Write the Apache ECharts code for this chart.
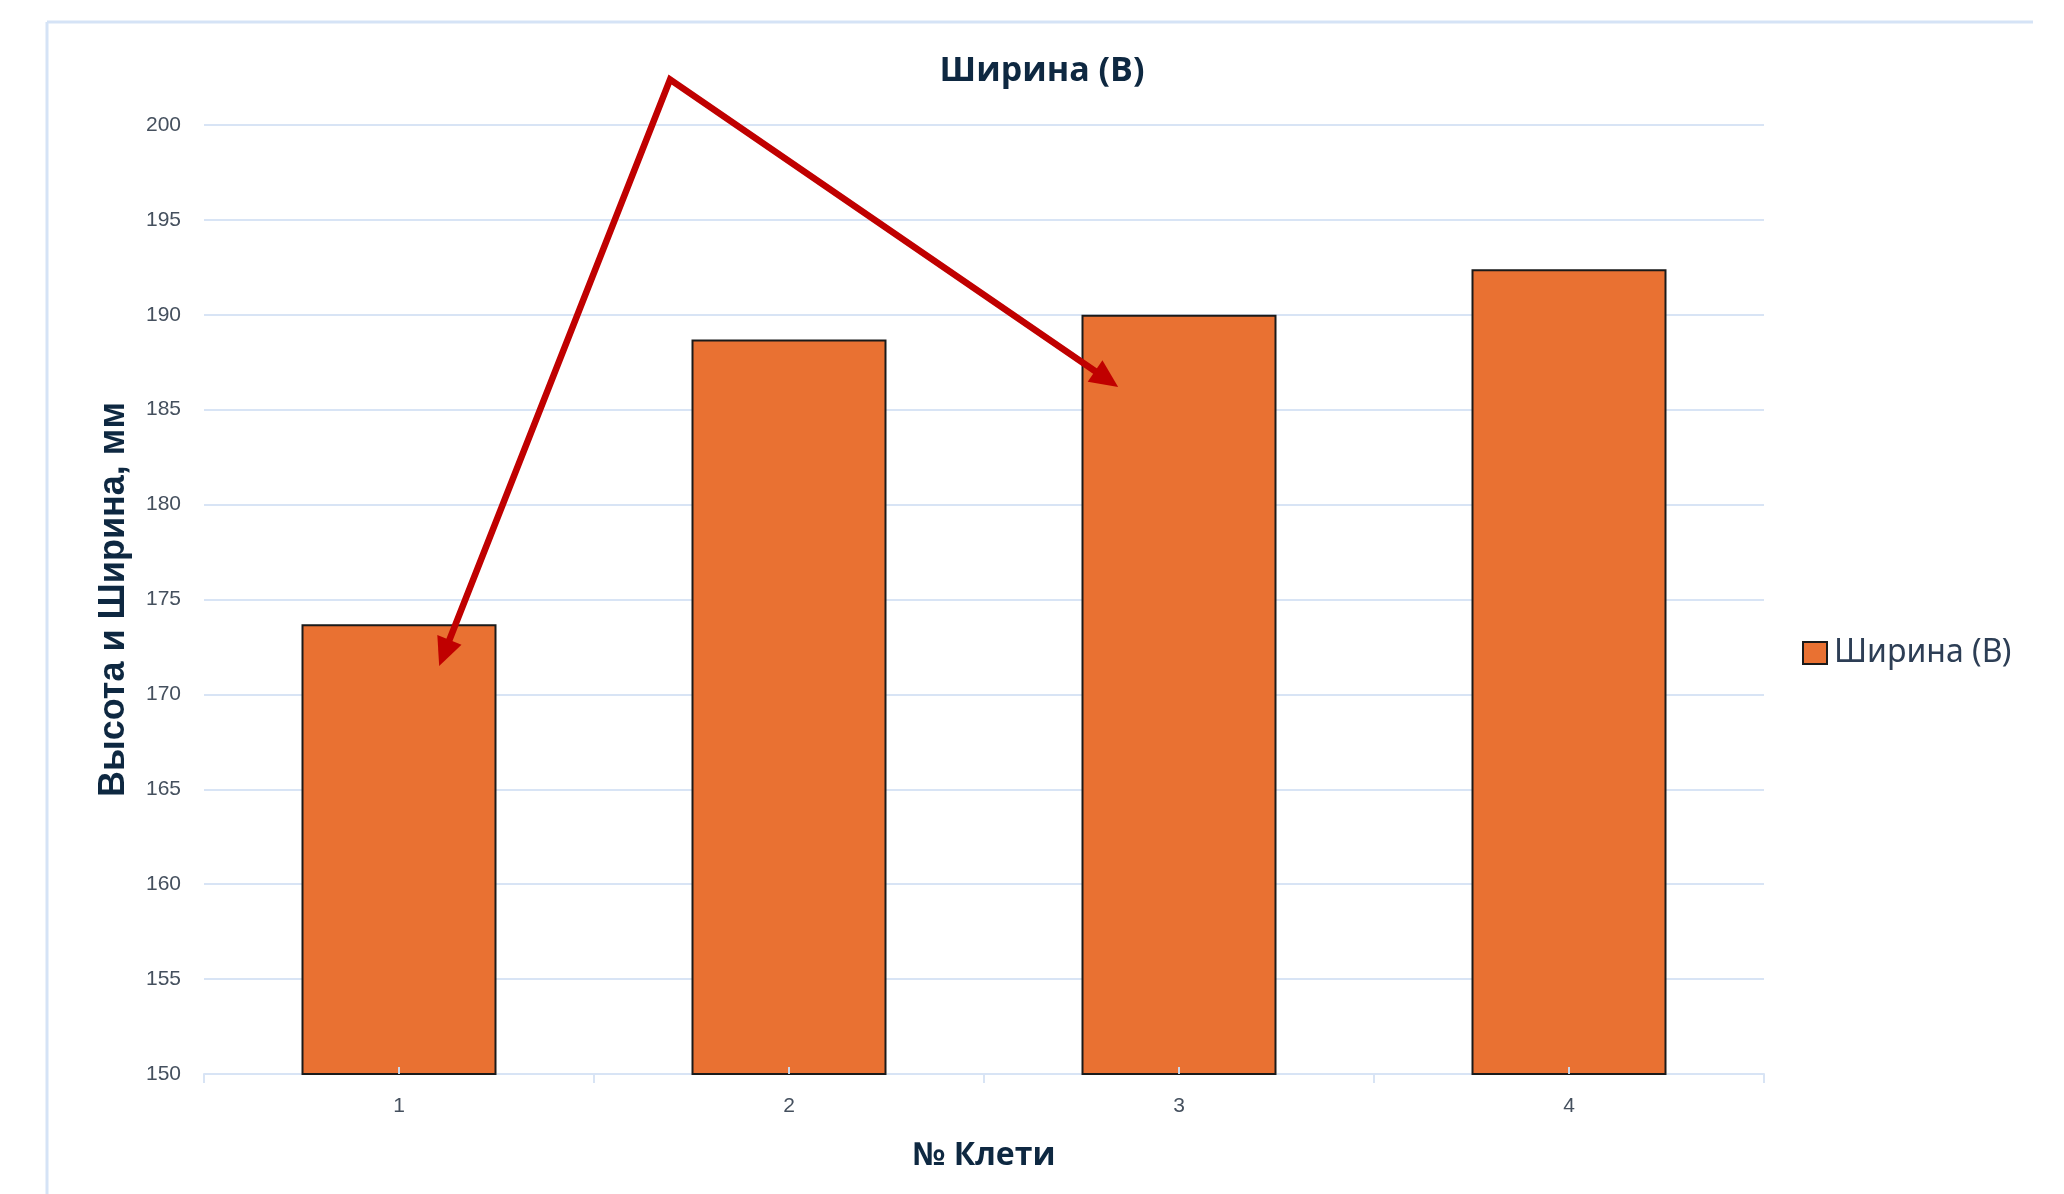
<!DOCTYPE html>
<html>
<head>
<meta charset="utf-8">
<style>
  html, body { margin: 0; padding: 0; background: #ffffff; }
  #main { width: 2064px; height: 1194px; }
</style>
<script src="https://cdn.jsdelivr.net/npm/echarts@6/dist/echarts.min.js"></script>
</head>
<body>
<div id="main"></div>
<script>
// Stand numbers and measured width per stand, mm
const categories = ['1', '2', '3', '4'];
const widthValues = [173.7, 188.7, 190.0, 192.4];
const seriesName = 'Ширина (В)';

// Value axis range and step, mm
const yMin = 150;
const yMax = 200;
const yStep = 5;

// Trend arrow: [position in category bands from the left edge, value in mm]
const arrowPath = [
  [0.603, 171.5],
  [1.195, 202.4],
  [2.344, 186.2]
];

const textDark = '#0e2841';
const tickText = '#45505e';
const gridBlue = '#d8e4f5';
const arrowRed = '#c00000';

const chart = echarts.init(document.getElementById('main'));

chart.setOption({
  backgroundColor: '#ffffff',
  animation: false,
  title: {
    text: seriesName,
    left: 1037,
    top: 49,
    textAlign: 'center',
    textStyle: {
      fontFamily: 'Open Sans',
      fontWeight: 'bold',
      fontSize: 34,
      color: textDark
    }
  },
  legend: {
    orient: 'vertical',
    left: 1797,
    top: 632,
    itemWidth: 24,
    itemHeight: 22,
    itemGap: 8,
    icon: 'rect',
    data: [seriesName],
    itemStyle: { borderColor: '#1a1a1a', borderWidth: 2 },
    textStyle: {
      fontFamily: 'Noto Sans',
      fontSize: 32,
      color: '#2d3e55',
      padding: [0, 0, 0, 2]
    }
  },
  grid: {
    left: 204,
    right: 300,
    top: 125,
    bottom: 120,
    containLabel: false
  },
  xAxis: [
    {
      type: 'category',
      data: categories,
      name: '№ Клети',
      nameLocation: 'middle',
      nameGap: 66,
      nameTextStyle: {
        fontFamily: 'Open Sans',
        fontWeight: 'bold',
        fontSize: 32,
        color: textDark
      },
      axisLine: { show: true, lineStyle: { color: gridBlue, width: 2 } },
      axisTick: {
        show: true,
        alignWithLabel: false,
        length: 9,
        lineStyle: { color: gridBlue, width: 2 }
      },
      axisLabel: {
        margin: 22,
        fontFamily: 'Liberation Sans',
        fontSize: 21,
        color: tickText
      },
      splitLine: { show: false }
    },
    {
      // short marks at each stand centre, drawn over the bars
      type: 'category',
      data: categories,
      position: 'bottom',
      z: 5,
      axisLine: { show: false },
      axisLabel: { show: false },
      axisTick: {
        show: true,
        alignWithLabel: true,
        inside: true,
        length: 7,
        lineStyle: { color: '#c9d7ea', width: 2 }
      },
      splitLine: { show: false }
    },
    {
      // continuous band scale used to place the trend arrow
      type: 'value',
      min: 0,
      max: categories.length,
      show: false
    }
  ],
  yAxis: {
    type: 'value',
    min: yMin,
    max: yMax,
    interval: yStep,
    name: 'Высота и Ширина, мм',
    nameLocation: 'middle',
    nameGap: 72,
    nameRotate: 90,
    nameTextStyle: {
      fontFamily: 'Liberation Sans',
      fontWeight: 'bold',
      fontSize: 36,
      color: textDark
    },
    axisLine: { show: false },
    axisTick: { show: false },
    axisLabel: {
      margin: 23,
      fontFamily: 'Liberation Sans',
      fontSize: 21,
      color: tickText
    },
    splitLine: { show: true, lineStyle: { color: gridBlue, width: 2 } }
  },
  series: [
    {
      name: seriesName,
      type: 'bar',
      xAxisIndex: 0,
      yAxisIndex: 0,
      data: widthValues,
      barWidth: '50%',
      itemStyle: {
        color: '#e97132',
        borderColor: '#1a1a1a',
        borderWidth: 2
      }
    }
  ]
});

// Frame lines of the chart area and the red trend arrow
function drawOverlay() {
  const pts = arrowPath.map(function (p) {
    return [
      chart.convertToPixel({ xAxisIndex: 2 }, p[0]),
      chart.convertToPixel({ yAxisIndex: 0 }, p[1])
    ];
  });

  const headLen = 28;
  const headHalf = 13;

  function head(from, to) {
    const dx = to[0] - from[0];
    const dy = to[1] - from[1];
    const len = Math.sqrt(dx * dx + dy * dy);
    const ux = dx / len, uy = dy / len;
    const bx = to[0] - ux * headLen, by = to[1] - uy * headLen;
    return {
      base: [bx + ux * 2, by + uy * 2],
      shape: [
        [to[0], to[1]],
        [bx - uy * headHalf, by + ux * headHalf],
        [bx + uy * headHalf, by - ux * headHalf]
      ]
    };
  }

  const h1 = head(pts[1], pts[0]);
  const h2 = head(pts[1], pts[2]);

  chart.setOption({
    graphic: [
      {
        type: 'line',
        silent: true,
        shape: { x1: 47, y1: 22, x2: 2033, y2: 22 },
        style: { stroke: '#d5e3f6', lineWidth: 3 }
      },
      {
        type: 'line',
        silent: true,
        shape: { x1: 47, y1: 22, x2: 47, y2: 1194 },
        style: { stroke: '#d5e3f6', lineWidth: 3 }
      },
      {
        type: 'polyline',
        silent: true,
        z: 10,
        shape: { points: [h1.base, pts[1], h2.base] },
        style: { stroke: arrowRed, lineWidth: 6.5, fill: null, lineJoin: 'miter' }
      },
      {
        type: 'polygon',
        silent: true,
        z: 10,
        shape: { points: h1.shape },
        style: { fill: arrowRed }
      },
      {
        type: 'polygon',
        silent: true,
        z: 10,
        shape: { points: h2.shape },
        style: { fill: arrowRed }
      }
    ]
  });
}

drawOverlay();
</script>
</body>
</html>
